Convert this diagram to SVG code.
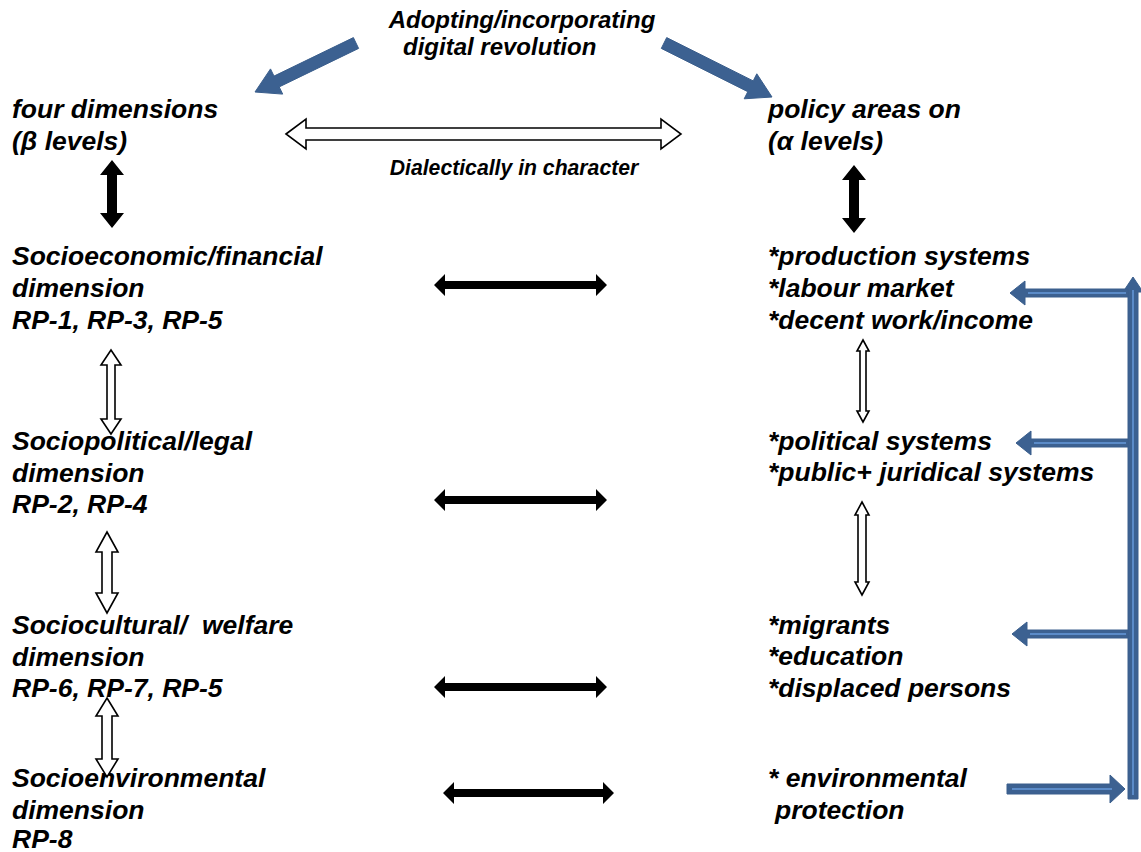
<svg xmlns="http://www.w3.org/2000/svg" width="1141" height="852" viewBox="0 0 1141 852">
<style>
text{font-family:"Liberation Sans",Arial,sans-serif;font-weight:bold;font-style:italic;fill:#000}
.t{font-size:26.5px}
.s{font-size:24px}
.c{font-size:21.2px}
.blk{fill:#000;stroke:none}
.hol{fill:#fff;stroke:#000;stroke-width:1.6}
.blu{fill:#3C6191;stroke:#3A5E8C;stroke-width:1}
.hl{stroke:#5B8BC8;stroke-width:2;fill:none}
</style>
<rect width="1141" height="852" fill="#fff"/>
<g id="top">
<text class="s" x="522" y="28" text-anchor="middle">Adopting/incorporating</text>
<text class="s" x="403" y="55">digital revolution</text>
</g>
<g id="left-head">
<text class="t" x="12" y="118">four dimensions</text>
<text class="t" x="12" y="150">(β levels)</text>
</g>
<g id="right-head">
<text class="t" x="768" y="118">policy areas on</text>
<text class="t" x="768" y="150">(α levels)</text>
</g>
<g id="dialect">
<text class="c" x="514" y="175" text-anchor="middle">Dialectically in character</text>
</g>
<g id="dim1">
<text class="t" x="12" y="265">Socioeconomic/financial</text>
<text class="t" x="12" y="297">dimension</text>
<text class="t" x="12" y="329">RP-1, RP-3, RP-5</text>
</g>
<g id="dim2">
<text class="t" x="12" y="450">Sociopolitical/legal</text>
<text class="t" x="12" y="482">dimension</text>
<text class="t" x="12" y="513">RP-2, RP-4</text>
</g>
<g id="dim3">
<text class="t" x="12" y="634" xml:space="preserve">Sociocultural/  welfare</text>
<text class="t" x="12" y="666">dimension</text>
<text class="t" x="12" y="697">RP-6, RP-7, RP-5</text>
</g>
<g id="dim4">
<text class="t" x="12" y="787">Socioenvironmental</text>
<text class="t" x="12" y="819">dimension</text>
<text class="t" x="12" y="848">RP-8</text>
</g>
<g id="pol1">
<text class="t" x="768" y="265">*production systems</text>
<text class="t" x="768" y="297">*labour market</text>
<text class="t" x="768" y="329">*decent work/income</text>
</g>
<g id="pol2">
<text class="t" x="768" y="450">*political systems</text>
<text class="t" x="768" y="481">*public+ juridical systems</text>
</g>
<g id="pol3">
<text class="t" x="768" y="634">*migrants</text>
<text class="t" x="768" y="665">*education</text>
<text class="t" x="768" y="697">*displaced persons</text>
</g>
<g id="pol4">
<text class="t" x="768" y="787">* environmental</text>
<text class="t" x="775" y="819">protection</text>
</g>
<g id="connectors">
<polygon class="blu" points="353.4,37.6 274.0,76.1 270.5,68.9 255,92 282.7,94.1 279.2,86.9 358.6,48.4"/>
<polygon class="blu" points="661.3,48.4 747.8,91.7 744.2,98.8 772,97 756.8,73.8 753.2,80.9 666.7,37.6"/>
<polygon class="hol" points="286,134 306,119 306,128 661,128 661,119 681,134 661,149 661,140 306,140 306,149"/>
<polygon class="blk" points="112,160 124,175 117,175 117,213 124,213 112,228 100,213 107,213 107,175 100,175"/>
<polygon class="blk" points="854,165 866,180 859,180 859,218 866,218 854,233 842,218 849,218 849,180 842,180"/>
<polygon class="blk" points="434,285 445,274 445,281 596,281 596,274 607,285 596,296 596,289 445,289 445,296"/>
<polygon class="blk" points="434,500 445,489 445,496 596,496 596,489 607,500 596,511 596,504 445,504 445,511"/>
<polygon class="blk" points="434,687 445,676 445,683 596,683 596,676 607,687 596,698 596,691 445,691 445,698"/>
<polygon class="blk" points="443,793 454,782 454,789 603,789 603,782 614,793 603,804 603,797 454,797 454,804"/>
<polygon class="hol" points="111,350 121,365 115,365 115,419 121,419 111,434 101,419 107,419 107,365 101,365"/>
<polygon class="hol" points="107,532 118,552 112,552 112,593 118,593 107,613 96,593 102,593 102,552 96,552"/>
<polygon class="hol" points="107,698 118,716 112,716 112,759 118,759 107,777 96,759 102,759 102,716 96,716"/>
<polygon class="hol" points="863,340 869,351 866,351 866,411 869,411 863,422 857,411 860,411 860,351 857,351"/>
<polygon class="hol" points="862,502 869,515 866,515 866,582 869,582 862,595 855,582 858,582 858,515 855,515"/>
<polygon class="blu" points="1128,292 1123,292 1133,277 1143,292 1138,292 1138,799 1128,799"/>
<line class="hl" x1="1133" y1="290" x2="1133" y2="795"/>
<polygon class="blu" points="1128,289 1025,289 1025,281 1010,293 1025,305 1025,297 1128,297"/>
<line class="hl" x1="1028" y1="293" x2="1126" y2="293"/>
<polygon class="blu" points="1128,439 1031,439 1031,431 1016,443 1031,455 1031,447 1128,447"/>
<line class="hl" x1="1034" y1="443" x2="1126" y2="443"/>
<polygon class="blu" points="1128,630 1027,630 1027,622 1012,634 1027,646 1027,638 1128,638"/>
<line class="hl" x1="1030" y1="634" x2="1126" y2="634"/>
<polygon class="blu" points="1007,784 1110,784 1110,775 1125,789 1110,803 1110,794 1007,794"/>
<line class="hl" x1="1012" y1="789" x2="1112" y2="789"/>
</g>
</svg>
